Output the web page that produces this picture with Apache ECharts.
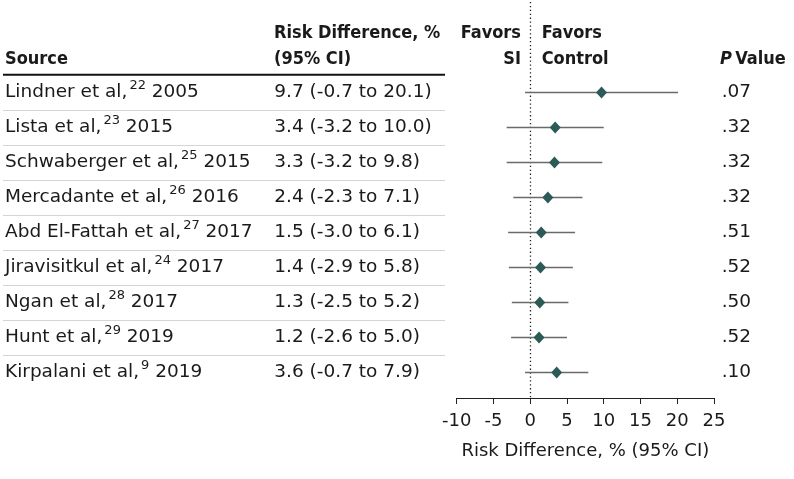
<!DOCTYPE html>
<html><head><meta charset="utf-8">
<script src="https://cdn.jsdelivr.net/npm/echarts@6/dist/echarts.min.js"></script>
<style>html,body{margin:0;padding:0;background:#fff}#c{width:794px;height:479px}</style>
</head><body><div id="c"></div>
<script>
const authors = ['Lindner et al,', 'Lista et al,', 'Schwaberger et al,', 'Mercadante et al,', 'Abd El-Fattah et al,', 'Jiravisitkul et al,', 'Ngan et al,', 'Hunt et al,', 'Kirpalani et al,'];
const refs = ['22', '23', '25', '26', '27', '24', '28', '29', '9'];
const years = ['2005', '2015', '2015', '2016', '2017', '2017', '2017', '2019', '2019'];
const riskDiff = [9.7, 3.4, 3.3, 2.4, 1.5, 1.4, 1.3, 1.2, 3.6];
const ciLow = [-0.7, -3.2, -3.2, -2.3, -3.0, -2.9, -2.5, -2.6, -0.7];
const ciHigh = [20.1, 10.0, 9.8, 7.1, 6.1, 5.8, 5.2, 5.0, 7.9];
const pValues = ['.07', '.32', '.32', '.32', '.51', '.52', '.50', '.52', '.10'];
const xTicks = { min: -10, max: 25, interval: 5 };

const FONT = 'DejaVu Sans';
const FS = 18.5;
const TXT = '#1a1a1a';
const idx = authors.map((_, i) => i);
const fmt = v => v.toFixed(1);
const riskText = idx.map(i => `${fmt(riskDiff[i])} (${fmt(ciLow[i])} to ${fmt(ciHigh[i])})`);

const chart = echarts.init(document.getElementById('c'), null, { renderer: 'canvas' });
const GL = 456.7, GR = 80, GT = 75, GB = 89;

const baseLabel = { fontFamily: FONT, fontSize: FS, color: TXT };
const HF = `bold 18px 'DejaVu Sans Condensed', ${FONT}`;
const option = {
  animation: false,
  textStyle: { fontFamily: FONT },
  grid: { left: GL, right: GR, top: GT, bottom: GB, containLabel: false },
  xAxis: {
    type: 'value', min: xTicks.min, max: xTicks.max, interval: xTicks.interval,
    offset: 8,
    axisLine: { show: true, lineStyle: { color: '#222', width: 1 } },
    axisTick: { show: true, length: 6, lineStyle: { color: '#222' } },
    splitLine: { show: false },
    axisLabel: Object.assign({ margin: 14 }, baseLabel, { fontSize: 18 }),
    name: 'Risk Difference, % (95% CI)', nameLocation: 'middle', nameGap: 44,
    nameTextStyle: Object.assign({}, baseLabel, { fontSize: 18 })
  },
  yAxis: [
    {
      type: 'category', data: idx, inverse: true, position: 'left',
      axisLine: { show: false }, axisTick: { show: false }, splitLine: { show: false },
      axisLabel: Object.assign({
        align: 'left', margin: GL - 5,
        formatter: (v) => `{n|${authors[v]}}{s|${refs[v]}}{n| ${years[v]}}`,
        rich: {
          n: Object.assign({ lineHeight: 26 }, baseLabel),
          s: { fontFamily: FONT, fontSize: 13, color: TXT, lineHeight: 18, verticalAlign: 'top', padding: [0, 0, 0, 2] }
        }
      }, baseLabel)
    },
    {
      type: 'category', data: idx, inverse: true, position: 'left',
      axisLine: { show: false }, axisTick: { show: false }, splitLine: { show: false },
      axisLabel: Object.assign({ align: 'left', margin: GL - 274.3, formatter: v => riskText[v] }, baseLabel)
    },
    {
      type: 'category', data: idx, inverse: true, position: 'right',
      axisLine: { show: false }, axisTick: { show: false }, splitLine: { show: false },
      axisLabel: Object.assign({ align: 'left', margin: 7.7, formatter: v => pValues[v] }, baseLabel)
    }
  ],
  graphic: [
    { type: 'text', left: 5, top: 50, style: { text: 'Source', font: HF, fill: TXT } },
    { type: 'text', left: 274, top: 24, style: { text: 'Risk Difference, %', font: HF, fill: TXT } },
    { type: 'text', left: 274, top: 50, style: { text: '(95% CI)', font: HF, fill: TXT } },
    { type: 'text', x: 521, y: 24, style: { text: 'Favors', font: HF, fill: TXT, align: 'right' } },
    { type: 'text', x: 521, y: 50, style: { text: 'SI', font: HF, fill: TXT, align: 'right' } },
    { type: 'text', left: 541.7, top: 24, style: { text: 'Favors', font: HF, fill: TXT } },
    { type: 'text', left: 541.7, top: 50, style: { text: 'Control', font: HF, fill: TXT } },
    { type: 'text', left: 720, top: 50, style: {
        text: '{i|P} {b|Value}', rich: {
          i: { fontFamily: "'DejaVu Sans Condensed'", fontSize: 18, fontWeight: 'bold', fontStyle: 'italic', fill: TXT },
          b: { fontFamily: "'DejaVu Sans Condensed'", fontSize: 18, fontWeight: 'bold', fill: TXT }
        } } },
    { type: 'line', shape: { x1: 3, y1: 74.7, x2: 445, y2: 74.7 }, style: { stroke: '#111', lineWidth: 2 } }
  ],
  series: [
    {
      type: 'custom', clip: false, silent: true, z: 1,
      data: idx.slice(0, -1).map(i => [0, i]),
      renderItem: (params, api) => {
        const p = api.coord([0, api.value(1)]);
        const h = api.size([0, 1])[1];
        const y = Math.round(p[1] + h / 2) + 0.5;
        return { type: 'line', shape: { x1: 3, y1: y, x2: 445, y2: y }, style: { stroke: '#d4d4d4', lineWidth: 1.2 } };
      }
    },
    {
      type: 'custom', clip: false, silent: true, z: 1,
      data: [[0]],
      renderItem: (params, api) => {
        const top = api.coord([0, 0]);
        const h = api.size([0, 1])[1];
        const x = Math.round(top[0]) + 0.5;
        return { type: 'line', shape: { x1: x, y1: 2, x2: x, y2: top[1] + h * (authors.length - 0.5) + 8 },
          style: { stroke: '#222', lineWidth: 1.3, lineDash: [1.3, 2.6] } };
      }
    },
    {
      type: 'custom', clip: false, silent: true, z: 2,
      data: idx.map(i => [ciLow[i], ciHigh[i], i]),
      renderItem: (params, api) => {
        const a = api.coord([api.value(0), api.value(2)]);
        const b = api.coord([api.value(1), api.value(2)]);
        return { type: 'line', shape: { x1: a[0], y1: a[1], x2: b[0], y2: b[1] }, style: { stroke: '#6a6a6a', lineWidth: 1.4 } };
      }
    },
    {
      type: 'scatter', z: 3, symbol: 'diamond', symbolSize: [11, 12],
      itemStyle: { color: '#2c5a56', opacity: 1 },
      data: idx.map(i => [riskDiff[i], i])
    }
  ]
};
chart.setOption(option);
</script></body></html>
